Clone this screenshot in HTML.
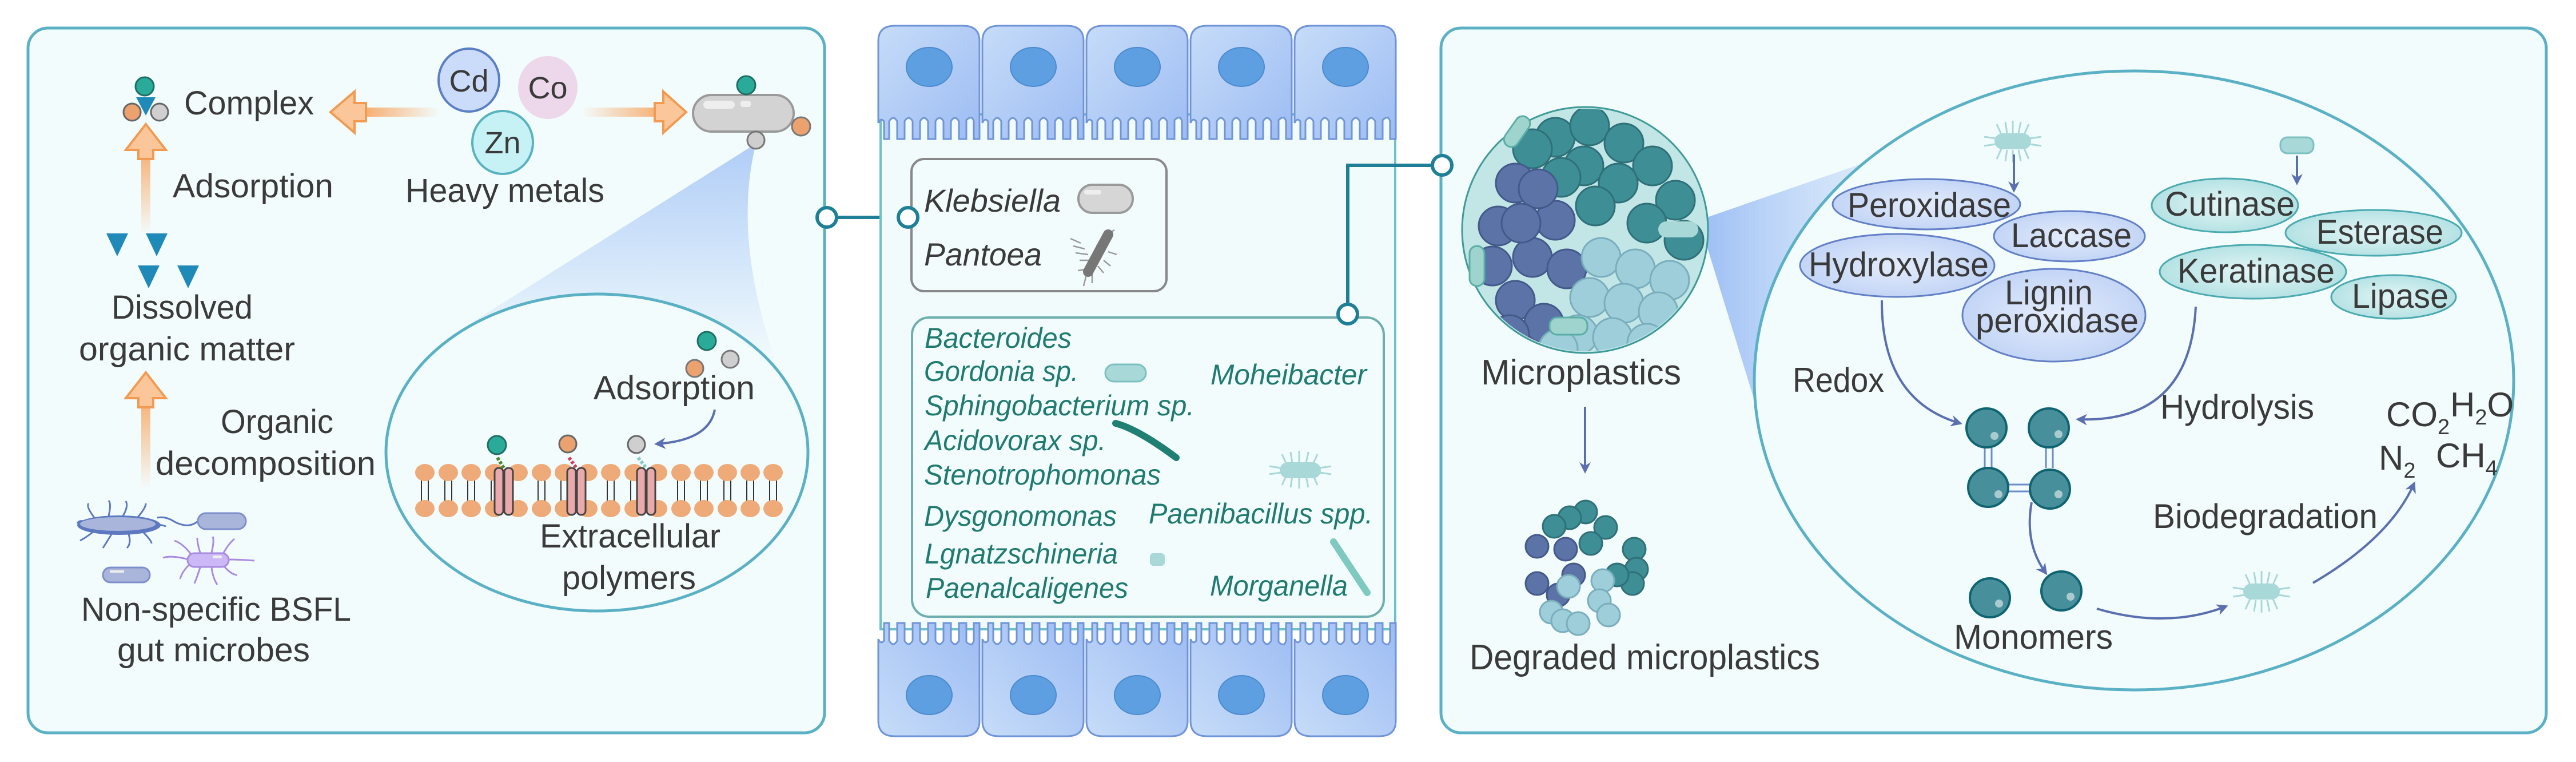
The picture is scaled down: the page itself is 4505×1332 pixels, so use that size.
<!DOCTYPE html>
<html><head><meta charset="utf-8"><style>
html,body{margin:0;padding:0;background:#fff;}
svg{display:block;}
text{font-family:"Liberation Sans",sans-serif;fill:#3a3a3a;}
.it{font-style:italic;fill:#1f7a70;}
</style></head><body>
<svg width="4505" height="1332" viewBox="0 0 4505 1332" xmlns="http://www.w3.org/2000/svg">
<defs>
<linearGradient id="orL" x1="0" x2="1"><stop offset="0" stop-color="#f7a35c"/><stop offset="1" stop-color="#f7a35c" stop-opacity="0"/></linearGradient>
<linearGradient id="orR" x1="1" x2="0"><stop offset="0" stop-color="#f7a35c"/><stop offset="1" stop-color="#f7a35c" stop-opacity="0"/></linearGradient>
<linearGradient id="orU" x1="0" y1="0" x2="0" y2="1"><stop offset="0" stop-color="#f7a35c"/><stop offset="1" stop-color="#f7a35c" stop-opacity="0"/></linearGradient>
<linearGradient id="cell" x1="0" y1="0" x2="1" y2="1"><stop offset="0" stop-color="#c6dcf8"/><stop offset="1" stop-color="#9dbcf3"/></linearGradient>
<linearGradient id="cone" x1="0" y1="0" x2="0" y2="1"><stop offset="0" stop-color="#b0cdf7"/><stop offset="1" stop-color="#b0cdf7" stop-opacity="0"/></linearGradient>
<linearGradient id="cone2" x1="0" y1="0" x2="1" y2="0"><stop offset="0" stop-color="#9fc0f5"/><stop offset="1" stop-color="#c8dcf8" stop-opacity="0.3"/></linearGradient>
<radialGradient id="enzB"><stop offset="0" stop-color="#e3ecfc"/><stop offset="1" stop-color="#c3d5f6"/></radialGradient>
<radialGradient id="enzT"><stop offset="0" stop-color="#e4f6f6"/><stop offset="1" stop-color="#b5e2e4"/></radialGradient>
<marker id="ah" viewBox="0 0 10 10" refX="8" refY="5" markerWidth="5" markerHeight="5" orient="auto"><path d="M0,0 L10,5 L0,10 L3,5 Z" fill="#5a6fb0"/></marker>
<clipPath id="sph"><ellipse cx="2772" cy="402" rx="212" ry="212"/></clipPath>
</defs>

<!-- LEFT PANEL -->
<rect x="49" y="49" width="1393" height="1232" rx="35" fill="#f3fcfd" stroke="#5ab0c4" stroke-width="5"/>
<!-- cone -->
<path d="M1322,251 L812,572 Q1050,470 1360,640 Q1280,420 1322,251 Z" fill="url(#cone)"/>
<ellipse cx="1044" cy="791" rx="369" ry="277" fill="#f3fcfd" stroke="#5ab0c4" stroke-width="5"/>
<path d="M812,572 Q1044,470 1360,640" fill="none" stroke="#b8d2f5" stroke-width="30" opacity="0.0"/>
<!-- complex -->
<rect x="222" y="181" width="8" height="0"/>
<circle cx="231" cy="196" r="15" fill="#eba26e" stroke="#666" stroke-width="3"/>
<circle cx="279" cy="196" r="15" fill="#cfcfcf" stroke="#666" stroke-width="3"/>
<path d="M238,170 L272,170 L255,202 Z" fill="#1f8ab8"/>
<circle cx="253" cy="151" r="16" fill="#2aab99" stroke="#1e6e66" stroke-width="3"/>
<text x="322" y="200" font-size="58" textLength="227" lengthAdjust="spacingAndGlyphs">Complex</text>
<!-- orange arrows -->
<rect x="620" y="188" width="150" height="16" fill="url(#orL)"/>
<path d="M620,160 L578,196 L620,232 L620,212 L640,212 L640,180 L620,180 Z" fill="#fbc79a" stroke="#f29a50" stroke-width="4"/>
<rect x="1016" y="188" width="160" height="16" fill="url(#orR)"/>
<path d="M1160,160 L1200,196 L1160,232 L1160,212 L1145,212 L1145,180 L1160,180 Z" fill="#fbc79a" stroke="#f29a50" stroke-width="4"/>
<rect x="247" y="240" width="16" height="170" fill="url(#orU)"/>
<path d="M220,262 L255,217 L290,262 L268,262 L268,278 L242,278 L242,262 Z" fill="#fbc79a" stroke="#f29a50" stroke-width="4"/>
<rect x="247" y="670" width="16" height="185" fill="url(#orU)"/>
<path d="M220,696 L255,651 L290,696 L268,696 L268,712 L242,712 L242,696 Z" fill="#fbc79a" stroke="#f29a50" stroke-width="4"/>
<!-- metals -->
<ellipse cx="958" cy="153" rx="52" ry="55" fill="#ecd8ea"/>
<ellipse cx="820" cy="140" rx="53" ry="55" fill="#cbdcfa" stroke="#5b7fc4" stroke-width="4"/>
<ellipse cx="879" cy="249" rx="53" ry="55" fill="#c6f1f5" stroke="#56b3bf" stroke-width="4"/>
<text x="820" y="160" font-size="54" text-anchor="middle">Cd</text>
<text x="958" y="172" font-size="54" text-anchor="middle">Co</text>
<text x="879" y="268" font-size="54" text-anchor="middle">Zn</text>
<text x="709" y="353" font-size="58" textLength="348" lengthAdjust="spacingAndGlyphs">Heavy metals</text>
<!-- gray bacterium -->
<rect x="1212" y="166" width="176" height="64" rx="32" fill="#d3d3d3" stroke="#9a9a9a" stroke-width="4"/>
<rect x="1230" y="176" width="55" height="14" rx="7" fill="#eee"/>
<rect x="1295" y="176" width="18" height="11" rx="4" fill="#eee"/>
<circle cx="1305" cy="149" r="16" fill="#2aab99" stroke="#1e6e66" stroke-width="3"/>
<circle cx="1401" cy="221" r="16" fill="#eba26e" stroke="#777" stroke-width="3"/>
<circle cx="1322" cy="245" r="15" fill="#cfcfcf" stroke="#777" stroke-width="3"/>
<text x="302" y="345" font-size="58" textLength="281" lengthAdjust="spacingAndGlyphs">Adsorption</text>
<!-- triangles -->
<path d="M186,408 L224,408 L205,448 Z M255,408 L293,408 L274,448 Z M241,464 L279,464 L260,504 Z M310,464 L348,464 L329,504 Z" fill="#1f8ab8"/>
<text x="195" y="557" font-size="58" textLength="247" lengthAdjust="spacingAndGlyphs">Dissolved</text>
<text x="138" y="630" font-size="58" textLength="378" lengthAdjust="spacingAndGlyphs">organic matter</text>
<text x="386" y="757" font-size="58" textLength="197" lengthAdjust="spacingAndGlyphs">Organic</text>
<text x="272" y="830" font-size="58" textLength="385" lengthAdjust="spacingAndGlyphs">decomposition</text>
<!-- microbes -->
<g fill="none" stroke="#5b78c0" stroke-width="3">
<path d="M160,918 Q140,905 135,915 M165,905 Q150,885 155,880 M190,902 Q195,880 190,875 M215,902 Q225,885 220,876 M240,905 Q255,888 255,880 M255,915 Q275,915 290,920 M250,930 Q265,945 265,950 M225,934 Q230,950 222,958 M195,934 Q185,950 180,958 M165,928 Q150,940 140,945"/>
<path d="M346,911 Q330,925 305,912 Q290,902 275,905"/>
</g>
<ellipse cx="208" cy="918" rx="73" ry="17" fill="#5b78c0"/>
<ellipse cx="206" cy="916" rx="66" ry="12" fill="#aab5db"/>
<rect x="346" y="897" width="84" height="28" rx="14" fill="#aab5db" stroke="#7d8fcb" stroke-width="3"/>
<rect x="180" y="992" width="82" height="26" rx="13" fill="#aab5db" stroke="#7d8fcb" stroke-width="3"/>
<rect x="192" y="997" width="25" height="4" fill="#eee"/>
<g fill="none" stroke="#a98be0" stroke-width="3">
<path d="M330,978 Q300,970 285,975 M335,970 Q320,950 305,945 M350,966 Q345,950 345,940 M370,966 Q375,945 372,938 M390,968 Q400,950 410,942 M398,978 Q420,978 445,980 M392,990 Q405,1005 415,1005 M370,992 Q372,1010 380,1022 M350,992 Q345,1008 340,1020 M330,988 Q318,1000 315,1012"/>
</g>
<rect x="328" y="967" width="72" height="24" rx="12" fill="#cdb8f7" stroke="#a98be0" stroke-width="3"/>
<rect x="372" y="971" width="16" height="5" rx="2" fill="#eee"/>
<text x="142" y="1085" font-size="58" textLength="472" lengthAdjust="spacingAndGlyphs">Non-specific BSFL</text>
<text x="205" y="1156" font-size="58" textLength="337" lengthAdjust="spacingAndGlyphs">gut microbes</text>
<!-- inner ellipse content -->
<circle cx="1236" cy="596" r="16" fill="#2aab99" stroke="#1e6e66" stroke-width="3"/>
<circle cx="1277" cy="628" r="15" fill="#cfcfcf" stroke="#777" stroke-width="3"/>
<circle cx="1215" cy="644" r="15" fill="#eba26e" stroke="#777" stroke-width="3"/>
<text x="1038" y="698" font-size="58" textLength="282" lengthAdjust="spacingAndGlyphs">Adsorption</text>
<path d="M1250,716 Q1240,770 1148,776" fill="none" stroke="#5a6fb0" stroke-width="4" marker-end="url(#ah)"/>
<g stroke="#333" stroke-width="2" fill="none">
<path d="M737,840 l0,35 M749,840 l0,35 M778,840 l0,35 M790,840 l0,35 M818,840 l0,35 M830,840 l0,35 M859,840 l0,35 M871,840 l0,35 M941,840 l0,35 M953,840 l0,35 M981,840 l0,35 M993,840 l0,35 M1062,840 l0,35 M1074,840 l0,35 M1103,840 l0,35 M1115,840 l0,35 M1185,840 l0,35 M1197,840 l0,35 M1225,840 l0,35 M1237,840 l0,35 M1266,840 l0,35 M1278,840 l0,35 M1306,840 l0,35 M1318,840 l0,35 M1346,840 l0,35 M1358,840 l0,35"/>
</g>
<g fill="#eeaa78">
<ellipse cx="743" cy="826" rx="17" ry="15"/><ellipse cx="784" cy="826" rx="17" ry="15"/><ellipse cx="824" cy="826" rx="17" ry="15"/><ellipse cx="865" cy="826" rx="17" ry="15"/><ellipse cx="906" cy="826" rx="17" ry="15"/><ellipse cx="947" cy="826" rx="17" ry="15"/><ellipse cx="987" cy="826" rx="17" ry="15"/><ellipse cx="1028" cy="826" rx="17" ry="15"/><ellipse cx="1068" cy="826" rx="17" ry="15"/><ellipse cx="1109" cy="826" rx="17" ry="15"/><ellipse cx="1150" cy="826" rx="17" ry="15"/><ellipse cx="1191" cy="826" rx="17" ry="15"/><ellipse cx="1231" cy="826" rx="17" ry="15"/><ellipse cx="1272" cy="826" rx="17" ry="15"/><ellipse cx="1312" cy="826" rx="17" ry="15"/><ellipse cx="1352" cy="826" rx="17" ry="15"/>
<ellipse cx="743" cy="889" rx="17" ry="15"/><ellipse cx="784" cy="889" rx="17" ry="15"/><ellipse cx="824" cy="889" rx="17" ry="15"/><ellipse cx="865" cy="889" rx="17" ry="15"/><ellipse cx="906" cy="889" rx="17" ry="15"/><ellipse cx="947" cy="889" rx="17" ry="15"/><ellipse cx="987" cy="889" rx="17" ry="15"/><ellipse cx="1028" cy="889" rx="17" ry="15"/><ellipse cx="1068" cy="889" rx="17" ry="15"/><ellipse cx="1109" cy="889" rx="17" ry="15"/><ellipse cx="1150" cy="889" rx="17" ry="15"/><ellipse cx="1191" cy="889" rx="17" ry="15"/><ellipse cx="1231" cy="889" rx="17" ry="15"/><ellipse cx="1272" cy="889" rx="17" ry="15"/><ellipse cx="1312" cy="889" rx="17" ry="15"/><ellipse cx="1352" cy="889" rx="17" ry="15"/>
</g>
<g fill="#eaa9ab" stroke="#444" stroke-width="3">
<rect x="865" y="818" width="15" height="82" rx="7"/><rect x="882" y="818" width="15" height="82" rx="7"/>
<rect x="992" y="818" width="15" height="82" rx="7"/><rect x="1009" y="818" width="15" height="82" rx="7"/>
<rect x="1114" y="818" width="15" height="82" rx="7"/><rect x="1131" y="818" width="15" height="82" rx="7"/>
</g>
<path d="M870,800 L881,818" stroke="#4a8a2a" stroke-width="6" stroke-dasharray="5,3"/>
<path d="M995,800 L1008,818" stroke="#d04060" stroke-width="6" stroke-dasharray="5,3"/>
<path d="M1116,800 L1130,818" stroke="#88c8c8" stroke-width="6" stroke-dasharray="5,3"/>
<circle cx="869" cy="778" r="16" fill="#2aab99" stroke="#1e6e66" stroke-width="3"/>
<circle cx="993" cy="776" r="15" fill="#eba26e" stroke="#666" stroke-width="3"/>
<circle cx="1113" cy="777" r="15" fill="#cfcfcf" stroke="#666" stroke-width="3"/>
<text x="944" y="957" font-size="58" textLength="316" lengthAdjust="spacingAndGlyphs">Extracellular</text>
<text x="983" y="1030" font-size="58" textLength="234" lengthAdjust="spacingAndGlyphs">polymers</text>
<!-- connector left-mid -->
<path d="M1446,380 L1588,380" stroke="#1e7f96" stroke-width="6"/>
<circle cx="1446" cy="380" r="17" fill="#fff" stroke="#1e7f96" stroke-width="6"/>

<!-- MIDDLE -->
<rect x="1540" y="200" width="900" height="900" fill="#f1fbfc" stroke="#6fc0c9" stroke-width="4"/>
<g id="topcells">
<g stroke="#6f94d8" stroke-width="3" fill="url(#cell)">
<path d="M1536,72 Q1536,45 1565,45 L1684,45 Q1713,45 1713,72 L1713,243 L1703,243 L1703,212 Q1700,200 1690,210 L1690,243 L1677,243 L1677,212 Q1670,200 1663,212 L1663,243 L1650,243 L1650,212 Q1643,200 1636,212 L1636,243 L1623,243 L1623,212 Q1616,200 1609,212 L1609,243 L1596,243 L1596,212 Q1589,200 1582,212 L1582,243 L1569,243 L1569,212 Q1562,200 1555,212 L1555,243 L1546,243 L1546,212 Q1540,205 1536,215 Z"/>
<path transform="translate(182,0)" d="M1536,72 Q1536,45 1565,45 L1684,45 Q1713,45 1713,72 L1713,243 L1703,243 L1703,212 Q1700,200 1690,210 L1690,243 L1677,243 L1677,212 Q1670,200 1663,212 L1663,243 L1650,243 L1650,212 Q1643,200 1636,212 L1636,243 L1623,243 L1623,212 Q1616,200 1609,212 L1609,243 L1596,243 L1596,212 Q1589,200 1582,212 L1582,243 L1569,243 L1569,212 Q1562,200 1555,212 L1555,243 L1546,243 L1546,212 Q1540,205 1536,215 Z"/>
<path transform="translate(364,0)" d="M1536,72 Q1536,45 1565,45 L1684,45 Q1713,45 1713,72 L1713,243 L1703,243 L1703,212 Q1700,200 1690,210 L1690,243 L1677,243 L1677,212 Q1670,200 1663,212 L1663,243 L1650,243 L1650,212 Q1643,200 1636,212 L1636,243 L1623,243 L1623,212 Q1616,200 1609,212 L1609,243 L1596,243 L1596,212 Q1589,200 1582,212 L1582,243 L1569,243 L1569,212 Q1562,200 1555,212 L1555,243 L1546,243 L1546,212 Q1540,205 1536,215 Z"/>
<path transform="translate(546,0)" d="M1536,72 Q1536,45 1565,45 L1684,45 Q1713,45 1713,72 L1713,243 L1703,243 L1703,212 Q1700,200 1690,210 L1690,243 L1677,243 L1677,212 Q1670,200 1663,212 L1663,243 L1650,243 L1650,212 Q1643,200 1636,212 L1636,243 L1623,243 L1623,212 Q1616,200 1609,212 L1609,243 L1596,243 L1596,212 Q1589,200 1582,212 L1582,243 L1569,243 L1569,212 Q1562,200 1555,212 L1555,243 L1546,243 L1546,212 Q1540,205 1536,215 Z"/>
<path transform="translate(728,0)" d="M1536,72 Q1536,45 1565,45 L1684,45 Q1713,45 1713,72 L1713,243 L1703,243 L1703,212 Q1700,200 1690,210 L1690,243 L1677,243 L1677,212 Q1670,200 1663,212 L1663,243 L1650,243 L1650,212 Q1643,200 1636,212 L1636,243 L1623,243 L1623,212 Q1616,200 1609,212 L1609,243 L1596,243 L1596,212 Q1589,200 1582,212 L1582,243 L1569,243 L1569,212 Q1562,200 1555,212 L1555,243 L1546,243 L1546,212 Q1540,205 1536,215 Z"/>
</g>
<g fill="#5d9fe0" stroke="#4b8ad0" stroke-width="2">
<ellipse cx="1625" cy="117" rx="40" ry="34"/><ellipse cx="1807" cy="117" rx="40" ry="34"/><ellipse cx="1989" cy="117" rx="40" ry="34"/><ellipse cx="2171" cy="117" rx="40" ry="34"/><ellipse cx="2353" cy="117" rx="40" ry="34"/>
</g>
</g>
<g transform="translate(0,1332) scale(1,-1)">
<use href="#topcells" transform="translate(0,0)"/>
</g>
<!-- Klebsiella box -->
<rect x="1594" y="278" width="446" height="231" rx="22" fill="#f3fcfd" stroke="#888" stroke-width="4"/>
<text class="it" x="1616" y="370" font-size="56" textLength="239" lengthAdjust="spacingAndGlyphs" style="fill:#3a3a3a">Klebsiella</text>
<text class="it" x="1616" y="464" font-size="56" textLength="206" lengthAdjust="spacingAndGlyphs" style="fill:#3a3a3a">Pantoea</text>
<rect x="1886" y="323" width="95" height="49" rx="24" fill="#d6d6d6" stroke="#9a9a9a" stroke-width="4"/>
<rect x="1896" y="332" width="30" height="8" rx="4" fill="#eee"/>
<g stroke="#999" stroke-width="2.5" fill="none">
<path d="M1890,425 l-18,-8 M1897,435 l-20,-5 M1903,445 l-22,-3 M1910,455 l-22,0 M1905,470 l-20,3 M1918,430 l10,-15 M1925,420 l15,-12 M1935,410 l14,-8 M1900,480 l-5,20 M1910,475 l0,20 M1920,465 l10,12 M1930,455 l12,10 M1938,440 l15,5"/>
</g>
<path d="M1938,410 L1903,475" stroke="#777" stroke-width="18" stroke-linecap="round"/>
<!-- green box -->
<rect x="1595" y="555" width="825" height="523" rx="30" fill="#f3fcfd" stroke="#6eaeae" stroke-width="4"/>
<g font-size="50">
<text class="it" x="1617" y="608" textLength="257" lengthAdjust="spacingAndGlyphs">Bacteroides</text>
<text class="it" x="1616" y="666" textLength="270" lengthAdjust="spacingAndGlyphs">Gordonia sp.</text>
<text class="it" x="1617" y="726" textLength="472" lengthAdjust="spacingAndGlyphs">Sphingobacterium sp.</text>
<text class="it" x="1617" y="787" textLength="317" lengthAdjust="spacingAndGlyphs">Acidovorax sp.</text>
<text class="it" x="1616" y="847" textLength="414" lengthAdjust="spacingAndGlyphs">Stenotrophomonas</text>
<text class="it" x="1616" y="919" textLength="337" lengthAdjust="spacingAndGlyphs">Dysgonomonas</text>
<text class="it" x="1617" y="985" textLength="338" lengthAdjust="spacingAndGlyphs">Lgnatzschineria</text>
<text class="it" x="1619" y="1045" textLength="354" lengthAdjust="spacingAndGlyphs">Paenalcaligenes</text>
<text class="it" x="2117" y="672" textLength="273" lengthAdjust="spacingAndGlyphs">Moheibacter</text>
<text class="it" x="2009" y="915" textLength="392" lengthAdjust="spacingAndGlyphs">Paenibacillus spp.</text>
<text class="it" x="2116" y="1041" textLength="241" lengthAdjust="spacingAndGlyphs">Morganella</text>
</g>
<rect x="1933" y="637" width="71" height="30" rx="15" fill="#a8d8d8" stroke="#7cc0c0" stroke-width="3"/>
<path d="M1951,740 Q1990,750 2057,800" stroke="#1e7f72" stroke-width="12" stroke-linecap="round" fill="none"/>
<rect x="2011" y="967" width="26" height="22" rx="6" fill="#a8d8d8"/>
<path d="M2332,947 L2391,1036" stroke="#7ecac0" stroke-width="12" stroke-linecap="round"/>
<g stroke="#a8d8d8" stroke-width="3"><path d="M2250,812 l-8,-18 M2260,810 l-3,-20 M2272,810 l0,-22 M2284,810 l4,-20 M2296,812 l8,-18 M2250,830 l-8,18 M2260,832 l-3,20 M2272,832 l0,22 M2284,832 l4,20 M2296,830 l8,18 M2240,818 l-20,-3 M2240,826 l-20,3 M2308,818 l20,-3 M2308,826 l20,3"/></g>
<rect x="2238" y="808" width="72" height="28" rx="14" fill="#a8d8d8"/>
<!-- connector mid-right -->
<path d="M2357,549 L2357,289 L2522,289" stroke="#1e7f96" stroke-width="6" fill="none"/>
<circle cx="2357" cy="549" r="17" fill="#fff" stroke="#1e7f96" stroke-width="6"/>
<circle cx="1588" cy="380" r="17" fill="#fff" stroke="#1e7f96" stroke-width="6"/>

<!-- RIGHT PANEL -->
<rect x="2520" y="49" width="1933" height="1232" rx="35" fill="#f3fcfd" stroke="#5ab0c4" stroke-width="5"/>
<circle cx="2522" cy="289" r="17" fill="#fff" stroke="#1e7f96" stroke-width="6"/>
<path d="M2985,380 L3346,255 Q3150,420 3070,706 L2985,430 Z" fill="url(#cone2)"/>
<ellipse cx="3732" cy="665" rx="664" ry="541" fill="#f3fcfd" stroke="#5ab0c4" stroke-width="5"/>
<!-- sphere -->
<ellipse cx="2772" cy="402" rx="215" ry="215" fill="#c2e6e6" stroke="#3e9a98" stroke-width="3"/>
<g clip-path="url(#sph)" stroke-width="3">
<g fill="#3e8e96" stroke="#2f7078">
<circle cx="2720" cy="240" r="34"/><circle cx="2780" cy="220" r="34"/><circle cx="2840" cy="250" r="34"/><circle cx="2890" cy="290" r="34"/><circle cx="2930" cy="350" r="34"/><circle cx="2770" cy="290" r="34"/><circle cx="2830" cy="320" r="34"/><circle cx="2880" cy="390" r="34"/><circle cx="2945" cy="420" r="34"/><circle cx="2790" cy="360" r="34"/><circle cx="2730" cy="310" r="34"/><circle cx="2680" cy="260" r="34"/>
</g>
<g fill="#5b73a6" stroke="#44598a">
<circle cx="2650" cy="320" r="34"/><circle cx="2620" cy="395" r="34"/><circle cx="2610" cy="465" r="34"/><circle cx="2650" cy="525" r="34"/><circle cx="2700" cy="565" r="34"/><circle cx="2680" cy="450" r="34"/><circle cx="2720" cy="385" r="34"/><circle cx="2690" cy="330" r="34"/><circle cx="2740" cy="470" r="34"/><circle cx="2640" cy="585" r="34"/><circle cx="2660" cy="390" r="34"/>
</g>
<g fill="#9fcedb" stroke="#7aaebd">
<circle cx="2800" cy="450" r="34"/><circle cx="2860" cy="470" r="34"/><circle cx="2920" cy="490" r="34"/><circle cx="2780" cy="520" r="34"/><circle cx="2840" cy="530" r="34"/><circle cx="2900" cy="545" r="34"/><circle cx="2760" cy="585" r="34"/><circle cx="2820" cy="590" r="34"/><circle cx="2880" cy="600" r="34"/><circle cx="2725" cy="610" r="34"/>
</g>
</g>
<rect x="2640" y="200" width="26" height="60" rx="13" transform="rotate(35 2653 230)" fill="#9fd4ce" stroke="#5aaea6" stroke-width="3"/>
<rect x="2570" y="430" width="26" height="70" rx="13" fill="#9fd4ce" stroke="#5aaea6" stroke-width="3"/>
<rect x="2710" y="555" width="66" height="30" rx="13" fill="#9fd4ce" stroke="#5aaea6" stroke-width="3"/>
<rect x="2900" y="387" width="70" height="28" rx="14" fill="#a8d8d8"/>
<text x="2590" y="672" font-size="62" textLength="350" lengthAdjust="spacingAndGlyphs">Microplastics</text>
<path d="M2772,711 L2772,824" stroke="#5a6fb0" stroke-width="4" marker-end="url(#ah)"/>
<!-- degraded -->
<g stroke-width="3">
<g fill="#3e8e96" stroke="#2f7078"><circle cx="2773" cy="895" r="20"/><circle cx="2745" cy="905" r="20"/><circle cx="2718" cy="920" r="20"/><circle cx="2808" cy="922" r="20"/><circle cx="2858" cy="960" r="20"/><circle cx="2862" cy="995" r="20"/><circle cx="2855" cy="1020" r="20"/><circle cx="2828" cy="1005" r="20"/><circle cx="2782" cy="950" r="20"/></g>
<g fill="#5b73a6" stroke="#44598a"><circle cx="2688" cy="955" r="20"/><circle cx="2738" cy="960" r="20"/><circle cx="2752" cy="1005" r="20"/><circle cx="2688" cy="1020" r="20"/><circle cx="2725" cy="1040" r="20"/></g>
<g fill="#9fcedb" stroke="#7aaebd"><circle cx="2743" cy="1025" r="20"/><circle cx="2803" cy="1015" r="20"/><circle cx="2797" cy="1050" r="20"/><circle cx="2713" cy="1070" r="20"/><circle cx="2733" cy="1085" r="20"/><circle cx="2760" cy="1090" r="20"/><circle cx="2813" cy="1075" r="20"/></g>
</g>
<text x="2570" y="1170" font-size="62" textLength="613" lengthAdjust="spacingAndGlyphs">Degraded microplastics</text>
<!-- enzymes -->
<g stroke="#6380c6" stroke-width="3" fill="url(#enzB)">
<ellipse cx="3369" cy="357" rx="164" ry="44"/>
<ellipse cx="3619" cy="413" rx="132" ry="44"/>
<ellipse cx="3318" cy="464" rx="170" ry="55"/>
<ellipse cx="3592" cy="551" rx="160" ry="81"/>
</g>
<g stroke="#4aaab0" stroke-width="3" fill="url(#enzT)">
<ellipse cx="3891" cy="359" rx="128" ry="47"/>
<ellipse cx="4151" cy="407" rx="154" ry="40"/>
<ellipse cx="3940" cy="475" rx="163" ry="47"/>
<ellipse cx="4186" cy="519" rx="109" ry="38"/>
</g>
<g font-size="60">
<text x="3231" y="379" textLength="286" lengthAdjust="spacingAndGlyphs">Peroxidase</text>
<text x="3517" y="432" textLength="211" lengthAdjust="spacingAndGlyphs">Laccase</text>
<text x="3163" y="483" textLength="315" lengthAdjust="spacingAndGlyphs">Hydroxylase</text>
<text x="3506" y="532" textLength="154" lengthAdjust="spacingAndGlyphs">Lignin</text>
<text x="3455" y="581" textLength="285" lengthAdjust="spacingAndGlyphs">peroxidase</text>
<text x="3786" y="377" textLength="227" lengthAdjust="spacingAndGlyphs">Cutinase</text>
<text x="4051" y="426" textLength="222" lengthAdjust="spacingAndGlyphs">Esterase</text>
<text x="3808" y="494" textLength="275" lengthAdjust="spacingAndGlyphs">Keratinase</text>
<text x="4113" y="538" textLength="169" lengthAdjust="spacingAndGlyphs">Lipase</text>
<text x="3135" y="685" textLength="160" lengthAdjust="spacingAndGlyphs">Redox</text>
<text x="3778" y="732" textLength="269" lengthAdjust="spacingAndGlyphs">Hydrolysis</text>
<text x="3765" y="923" textLength="393" lengthAdjust="spacingAndGlyphs">Biodegradation</text>
<text x="3417" y="1134" textLength="278" lengthAdjust="spacingAndGlyphs">Monomers</text>
<text x="4173" y="745">CO<tspan font-size="38" dy="14">2</tspan></text>
<text x="4285" y="728">H<tspan font-size="38" dy="14">2</tspan><tspan dy="-14">O</tspan></text>
<text x="4160" y="821">N<tspan font-size="38" dy="14">2</tspan></text>
<text x="4260" y="817">CH<tspan font-size="38" dy="14">4</tspan></text>
</g>
<!-- small bacteria top -->
<g stroke="#a8d8d8" stroke-width="3"><path d="M3500,235 l-8,-18 M3510,233 l-3,-20 M3520,233 l0,-22 M3530,233 l4,-20 M3540,235 l8,-18 M3500,260 l-8,18 M3510,262 l-3,20 M3520,262 l0,22 M3530,262 l4,20 M3540,260 l8,18 M3490,242 l-20,-3 M3490,252 l-20,3 M3550,242 l20,-3 M3550,252 l20,3"/></g>
<rect x="3488" y="233" width="64" height="28" rx="14" fill="#a8d8d8"/>
<path d="M3522,270 L3522,333" stroke="#5a6fb0" stroke-width="4" marker-end="url(#ah)"/>
<rect x="3988" y="240" width="58" height="28" rx="12" fill="#a8d8d8" stroke="#7cc0c0" stroke-width="3"/>
<path d="M4017,272 L4017,320" stroke="#5a6fb0" stroke-width="4" marker-end="url(#ah)"/>
<!-- curves -->
<g fill="none" stroke="#5a6fb0" stroke-width="4" marker-end="url(#ah)">
<path d="M3291,525 Q3290,700 3428,740"/>
<path d="M3840,536 Q3830,740 3634,733"/>
<path d="M3553,878 Q3540,950 3578,1002"/>
<path d="M3667,1064 Q3790,1100 3893,1060"/>
<path d="M4045,1019 Q4180,940 4222,845"/>
</g>
<!-- polymer -->
<g stroke="#6a8cc8" stroke-width="3">
<path d="M3471,783 L3471,818 M3483,783 L3483,818 M3578,783 L3578,818 M3590,783 L3590,818 M3510,847 L3552,847 M3510,859 L3552,859"/>
</g>
<g fill="#468f9b" stroke="#0f6472" stroke-width="4">
<ellipse cx="3474" cy="748" rx="35" ry="34"/><ellipse cx="3583" cy="748" rx="35" ry="34"/><ellipse cx="3477" cy="852" rx="35" ry="34"/><ellipse cx="3585" cy="855" rx="35" ry="34"/><ellipse cx="3480" cy="1045" rx="35" ry="34"/><ellipse cx="3605" cy="1033" rx="35" ry="34"/>
</g>
<g fill="#a9cbd0"><circle cx="3488" cy="762" r="7"/><circle cx="3600" cy="759" r="7"/><circle cx="3495" cy="864" r="7"/><circle cx="3600" cy="864" r="7"/><circle cx="3496" cy="1055" r="7"/><circle cx="3621" cy="1043" r="7"/></g>
<g stroke="#a8d8d8" stroke-width="3"><path d="M3935,1022 l-8,-18 M3945,1020 l-3,-20 M3955,1020 l0,-22 M3965,1020 l4,-20 M3975,1022 l8,-18 M3935,1047 l-8,18 M3945,1049 l-3,20 M3955,1049 l0,22 M3965,1049 l4,20 M3975,1047 l8,18 M3925,1030 l-20,-3 M3925,1040 l-20,3 M3985,1030 l20,-3 M3985,1040 l20,3"/></g>
<rect x="3923" y="1020" width="64" height="28" rx="14" fill="#a8d8d8"/>
</svg>
</body></html>
